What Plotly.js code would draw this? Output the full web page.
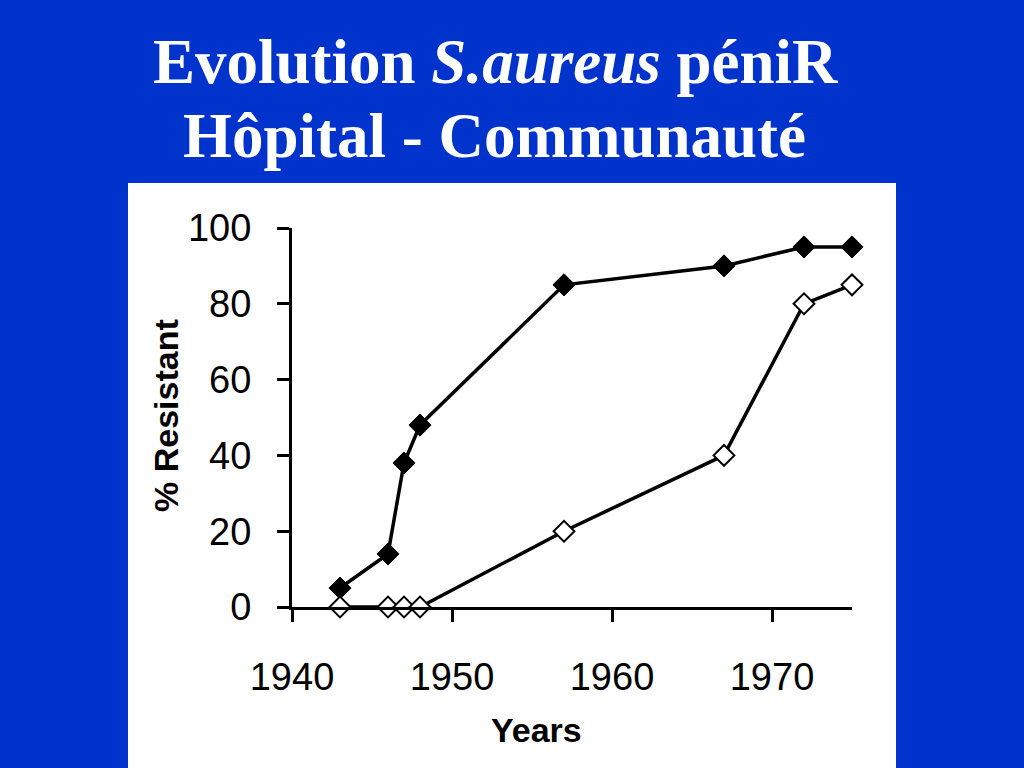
<!DOCTYPE html>
<html>
<head>
<meta charset="utf-8">
<script src="https://cdn.plot.ly/plotly-3.0.1.min.js"></script>
<style>
html, body { margin: 0; padding: 0; background: #0033cc; }
#chart { width: 1024px; height: 768px; }
</style>
</head>
<body>
<div id="chart"></div>
<script>
// Data
const years = [1943, 1946, 1947, 1948, 1957, 1967, 1972, 1975];
const hospital = [5, 14, 38, 48, 85, 90, 95, 95];        // filled diamonds
const community = [0, 0, 0, 0, 20, 40, 80, 85];          // open diamonds
const xTicks = [1940, 1950, 1960, 1970];
const yTicks = [0, 20, 40, 60, 80, 100];
const titleLine1 = "<b>Evolution <i>S.aureus</i> péniR</b>";
const titleLine2 = "<b>Hôpital - Communauté</b>";
const xTitle = "<b>Years</b>";
const yTitle = "<b>% Resistant</b>";

const traces = [
  {
    x: years, y: hospital, type: "scatter", mode: "lines+markers",
    line: { color: "#000", width: 3.5 },
    marker: { symbol: "diamond", size: 17, color: "#000", line: { color: "#000", width: 1 } },
    cliponaxis: false, showlegend: false
  },
  {
    x: years, y: community, type: "scatter", mode: "lines+markers",
    line: { color: "#000", width: 3.5 },
    marker: { symbol: "diamond", size: 16, color: "#fff", line: { color: "#000", width: 2 } },
    cliponaxis: false, showlegend: false
  }
];

const L = 292, R = 172, T = 228, B = 161;
const W = 1024 - L - R, H = 768 - T - B;
const px = v => (v - L) / W;
const py = v => (768 - B - v) / H;

const titleFont = { family: "Liberation Serif, Times New Roman, serif", size: 63, color: "#fff" };
const axisTitleFont = { family: "Liberation Sans, Arial, sans-serif", size: 34, color: "#000" };

const layout = {
  width: 1024, height: 768,
  margin: { l: L, r: R, t: T, b: B, pad: 0 },
  paper_bgcolor: "#0033cc",
  plot_bgcolor: "rgba(0,0,0,0)",
  showlegend: false,
  font: { family: "Liberation Sans, Arial, sans-serif", color: "#000" },
  xaxis: {
    range: [1940, 1975], tickvals: xTicks, ticktext: xTicks.map(String),
    showgrid: false, zeroline: false, showline: true, linecolor: "#000", linewidth: 3,
    ticks: "outside", ticklen: 12, tickwidth: 3, tickcolor: "#000",
    tickfont: { size: 38, color: "#000", family: "Liberation Sans, Arial, sans-serif" },
    ticklabelstandoff: 22,
    fixedrange: true
  },
  yaxis: {
    range: [0, 100], tickvals: yTicks, ticktext: yTicks.map(String),
    showgrid: false, zeroline: false, showline: true, linecolor: "#000", linewidth: 3,
    ticks: "outside", ticklen: 12, tickwidth: 3, tickcolor: "#000",
    tickfont: { size: 38, color: "#000", family: "Liberation Sans, Arial, sans-serif" },
    ticklabelstandoff: 18,
    fixedrange: true
  },
  shapes: [
    {
      type: "rect", xref: "paper", yref: "paper", layer: "below",
      x0: px(128), x1: px(896), y0: py(768), y1: py(183),
      fillcolor: "#ffffff", line: { width: 0 }
    }
  ],
  annotations: [
    {
      text: titleLine1, xref: "paper", yref: "paper", x: px(496), y: py(62),
      xanchor: "center", yanchor: "middle", showarrow: false, font: titleFont
    },
    {
      text: titleLine2, xref: "paper", yref: "paper", x: px(494), y: py(136),
      xanchor: "center", yanchor: "middle", showarrow: false, font: titleFont
    },
    {
      text: xTitle, xref: "paper", yref: "paper", x: px(536), y: py(730),
      xanchor: "center", yanchor: "middle", showarrow: false, font: axisTitleFont
    },
    {
      text: yTitle, xref: "paper", yref: "paper", x: px(166), y: py(416),
      xanchor: "center", yanchor: "middle", showarrow: false, textangle: -90, font: axisTitleFont
    }
  ]
};

Plotly.newPlot("chart", traces, layout, { staticPlot: true, displayModeBar: false });
</script>
</body>
</html>
